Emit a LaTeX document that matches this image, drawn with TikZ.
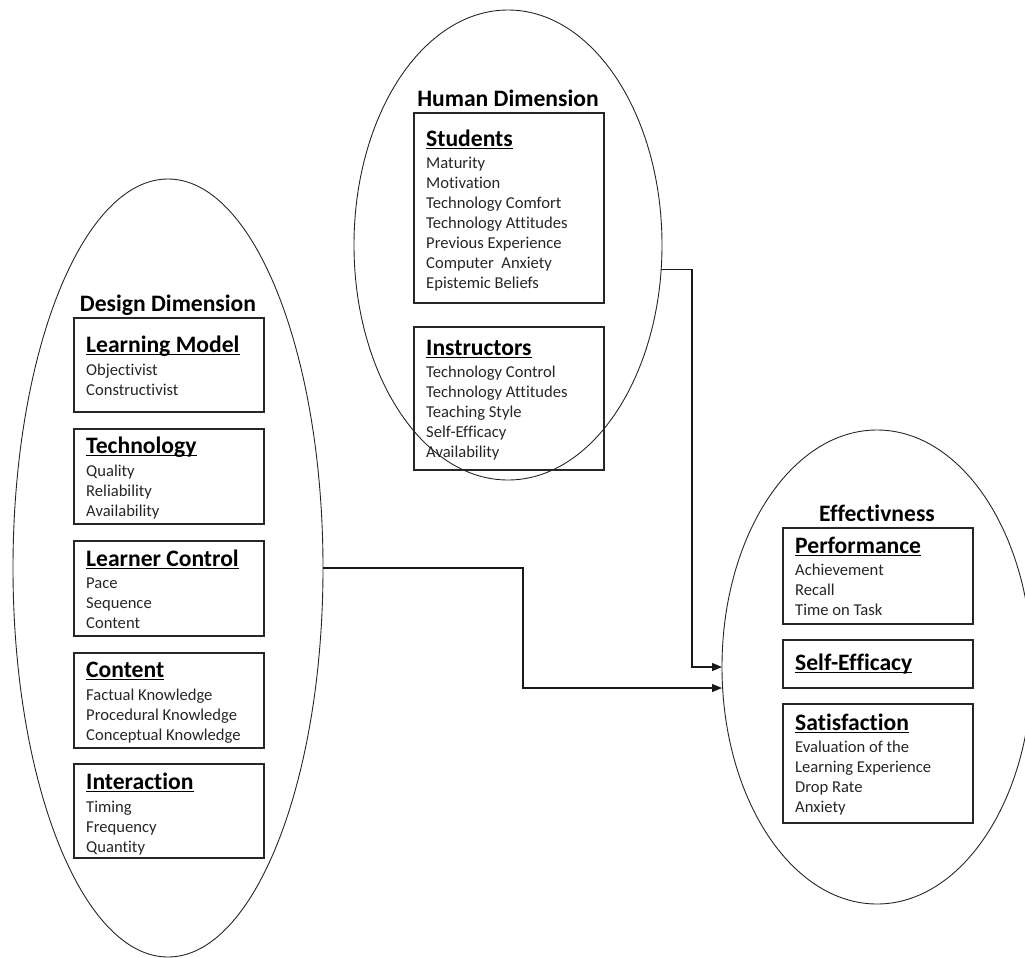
\documentclass[tikz,border=0pt]{standalone}
\usepackage{fontspec}
\setmainfont{Carlito}[Ligatures=NoCommon]
\usetikzlibrary{shapes.geometric,arrows.meta}

\tikzset{
  oval/.style={ellipse, draw=black!85, line width=0.9pt, inner sep=0pt, outer sep=0pt},
  panelbox/.style={rectangle, draw=black!85, line width=1.2pt, inner sep=0pt, outer sep=0pt, minimum width=190},
  dimtitle/.style={inner sep=0pt, font=\fontsize{23.6}{28}\selectfont\bfseries},
  head/.style={inner sep=0pt, font=\fontsize{23.6}{28}\selectfont\bfseries},
  itm/.style={inner sep=0pt, text=black!85, font=\fontsize{16.6}{20}\selectfont},
  uline/.style={line width=1.2pt},
  link/.style={line width=1.2pt, draw=black!90},
  arr/.style={link, -{Triangle[length=10pt,width=8pt]}}
}

% #1 name, #2 left x, #3 top y, #4 bottom y, #5 heading baseline,
% #6 heading, #7 first item baseline, #8 items
\newcommand\panel[8]{%
  \node[panelbox, minimum height={#4-#3}, anchor=north west] (#1) at (#2,#3) {};
  \node[head, anchor=base west] (#1-h) at (#2+12,#5) {#6};
  \draw[uline] ([yshift=-2.3pt]#1-h.base west) -- ([yshift=-2.3pt]#1-h.base east);
  \foreach \t [count=\i from 0] in {#8}
    \node[itm, anchor=base west] (#1-\i) at (#2+12,#7+20*\i) {\t};
}

\begin{document}
\begin{tikzpicture}[x=1pt, y=-1pt]
\useasboundingbox (0,0) rectangle (1025,958);

% the three dimensions
\node[oval, minimum width=310, minimum height=778] (dd) at (168,568) {};
\node[oval, minimum width=308, minimum height=470] (hd) at (508,245) {};
\node[oval, minimum width=310, minimum height=474] (ef) at (877,667) {};

\node[dimtitle, anchor=base] (dd-t) at (168,311) {Design Dimension};
\node[dimtitle, anchor=base] (hd-t) at (508,106) {Human Dimension};
\node[dimtitle, anchor=base] (ef-t) at (877,521) {Effectivness};

% design dimension
\panel{lm}{74}{318}{412}{352}{Learning Model}{375}{Objectivist,Constructivist}
\panel{tc}{74}{429}{524}{453}{Technology}{476}{Quality,Reliability,Availability}
\panel{lc}{74}{541}{636}{566}{Learner Control}{588}{Pace,Sequence,Content}
\panel{ct}{74}{653}{748}{677}{Content}{700}{Factual Knowledge,Procedural Knowledge,Conceptual Knowledge}
\panel{ia}{74}{764}{858}{789}{Interaction}{812}{Timing,Frequency,Quantity}

% human dimension
\panel{st}{414}{113}{303}{146}{Students}{168}{Maturity,Motivation,Technology Comfort,Technology Attitudes,Previous Experience,Computer~ Anxiety,Epistemic Beliefs}
\panel{in}{414}{327}{470}{355}{Instructors}{377}{Technology Control,Technology Attitudes,Teaching Style,Self-Efficacy,Availability}

% effectiveness
\panel{pf}{783}{528}{624}{553}{Performance}{575}{Achievement,Recall,Time on Task}
\node[panelbox, minimum height=48, anchor=north west] (se) at (783,640) {};
\node[head, anchor=base west] (se-h) at (795,670) {Self-Efficacy};
\draw[uline] ([yshift=-2.3pt]se-h.base west) -- ([yshift=-2.3pt]se-h.base east);
\panel{sf}{783}{704}{823}{730}{Satisfaction}{752}{Evaluation of the,Learning Experience,Drop Rate,Anxiety}

% connectors
\coordinate (j1) at (523,688);
\coordinate (j2) at (692,667);
\draw[arr] (dd.east) -| (j1) -- (j1 -| ef.west);
\draw[arr] (hd.-9.3) -| (j2) -- (ef.west);
\end{tikzpicture}
\end{document}
